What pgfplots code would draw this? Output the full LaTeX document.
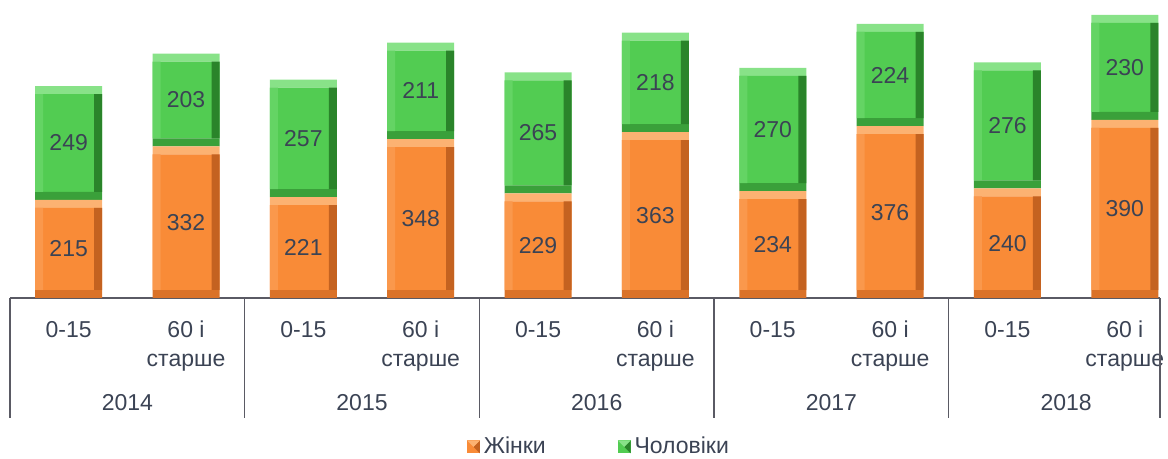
\documentclass[border=0pt]{standalone}
\usepackage{pgfplots}
\pgfplotsset{compat=1.18}
\usepackage{fontspec}
\setmainfont{Liberation Sans}
\definecolor{orbase}{RGB}{249,139,55}
\definecolor{ortop}{RGB}{252,178,114}
\definecolor{orleft}{RGB}{250,152,76}
\definecolor{orright}{RGB}{196,98,32}
\definecolor{orbot}{RGB}{218,114,40}
\definecolor{grbase}{RGB}{82,204,82}
\definecolor{grtop}{RGB}{136,226,136}
\definecolor{grleft}{RGB}{100,212,100}
\definecolor{grright}{RGB}{42,132,42}
\definecolor{grbot}{RGB}{58,160,58}
\definecolor{txt}{RGB}{59,67,84}
\definecolor{linecol}{RGB}{90,90,100}
\newcommand{\lblfont}{\fontsize{11.5}{14.5}\selectfont}
\pgfplotsset{
 common/.style={at={(0,0)}, anchor=south west,
   width=575pt, height=148pt, scale only axis,
   xmin=-0.5, xmax=9.3, ymin=0, ymax=648, clip=false},
 strips/.style={common, hide axis, ybar stacked, bar width=4pt, bar shift=#1},
}
\begin{document}
\begin{tikzpicture}
\useasboundingbox (-5pt,-80.5pt) rectangle (579pt,149pt);
% main bars
\begin{axis}[
 common,
 ybar stacked, bar width=33.5pt,
 hide y axis,
 axis x line*=bottom,
 x axis line style={-, draw=linecol, line width=0.6pt},
 xtick={0,...,9},
 xticklabels={0-15,{60 і\\старше},0-15,{60 і\\старше},0-15,{60 і\\старше},0-15,{60 і\\старше},0-15,{60 і\\старше}},
 xticklabel style={align=center, font=\lblfont, text=txt, anchor=north, yshift=-8pt},
 major tick length=0pt,
 extra x ticks={-0.5,1.5,3.5,5.5,7.5,9.3},
 extra x tick labels={},
 extra x tick style={major tick length=60pt, tick align=outside, tick style={draw=linecol, line width=0.6pt}},
 legend columns=2,
 legend style={at={(axis description cs:0.513,-0.503)}, anchor=center, draw=none, fill=none,
   font=\lblfont, text=txt, /tikz/every even column/.append style={column sep=34pt}},
 legend cell align=left,
]
\addplot[draw=none, fill=orbot, forget plot] coordinates {(0,17.5) (1,17.5) (2,17.5) (3,17.5) (4,17.5) (5,17.5) (6,17.5) (7,17.5) (8,17.5) (9,17.5)};
\addplot[draw=none, fill=orbase,
  legend image code/.code={\fill[orbase] (0pt,-3.2pt) rectangle (6.4pt,3.2pt);\fill[orright] (6.4pt,3.2pt) -- (6.4pt,-3.2pt) -- (3.2pt,0pt) -- cycle;\fill[ortop] (0pt,3.2pt) -- (6.4pt,3.2pt) -- (3.2pt,0pt) -- cycle;}]
 coordinates {(0,180) (1,297) (2,186) (3,313) (4,194) (5,328) (6,199) (7,341) (8,205) (9,355)};
\addlegendentry{Жінки}
\addplot[draw=none, fill=ortop, forget plot] coordinates {(0,17.5) (1,17.5) (2,17.5) (3,17.5) (4,17.5) (5,17.5) (6,17.5) (7,17.5) (8,17.5) (9,17.5)};
\addplot[draw=none, fill=grbot, forget plot] coordinates {(0,17.5) (1,17.5) (2,17.5) (3,17.5) (4,17.5) (5,17.5) (6,17.5) (7,17.5) (8,17.5) (9,17.5)};
\addplot[draw=none, fill=grbase,
  legend image code/.code={\fill[grbase] (0pt,-3.2pt) rectangle (6.4pt,3.2pt);\fill[grright] (6.4pt,3.2pt) -- (6.4pt,-3.2pt) -- (3.2pt,0pt) -- cycle;\fill[grtop] (0pt,3.2pt) -- (6.4pt,3.2pt) -- (3.2pt,0pt) -- cycle;}]
 coordinates {(0,214) (1,168) (2,222) (3,176) (4,230) (5,183) (6,235) (7,189) (8,241) (9,195)};
\addlegendentry{Чоловіки}
\addplot[draw=none, fill=grtop, forget plot] coordinates {(0,17.5) (1,17.5) (2,17.5) (3,17.5) (4,17.5) (5,17.5) (6,17.5) (7,17.5) (8,17.5) (9,17.5)};
\end{axis}
% left bevel strips
\begin{axis}[strips=-14.75pt]
\addplot[draw=none, fill=none] coordinates {(0,17.5) (1,17.5) (2,17.5) (3,17.5) (4,17.5) (5,17.5) (6,17.5) (7,17.5) (8,17.5) (9,17.5)};
\addplot[draw=none, fill=orleft] coordinates {(0,180) (1,297) (2,186) (3,313) (4,194) (5,328) (6,199) (7,341) (8,205) (9,355)};
\addplot[draw=none, fill=none] coordinates {(0,35) (1,35) (2,35) (3,35) (4,35) (5,35) (6,35) (7,35) (8,35) (9,35)};
\addplot[draw=none, fill=grleft] coordinates {(0,214) (1,168) (2,222) (3,176) (4,230) (5,183) (6,235) (7,189) (8,241) (9,195)};
\end{axis}
% right bevel strips
\begin{axis}[strips=14.75pt]
\addplot[draw=none, fill=none] coordinates {(0,17.5) (1,17.5) (2,17.5) (3,17.5) (4,17.5) (5,17.5) (6,17.5) (7,17.5) (8,17.5) (9,17.5)};
\addplot[draw=none, fill=orright] coordinates {(0,180) (1,297) (2,186) (3,313) (4,194) (5,328) (6,199) (7,341) (8,205) (9,355)};
\addplot[draw=none, fill=none] coordinates {(0,35) (1,35) (2,35) (3,35) (4,35) (5,35) (6,35) (7,35) (8,35) (9,35)};
\addplot[draw=none, fill=grright] coordinates {(0,214) (1,168) (2,222) (3,176) (4,230) (5,183) (6,235) (7,189) (8,241) (9,195)};
\end{axis}
% data labels and year labels
\begin{axis}[
 common,
 hide y axis,
 axis x line*=bottom,
 x axis line style={draw=none},
 xtick={0.5,2.5,4.5,6.5,8.5},
 xticklabels={2014,2015,2016,2017,2018},
 major tick length=0pt,
 xticklabel style={font=\lblfont, text=txt, anchor=north, yshift=-44.5pt},
 nodes near coords, point meta=explicit symbolic,
 every node near coord/.append style={anchor=center, font=\lblfont, text=txt},
]
\addplot[only marks, mark=*, mark size=0pt, mark options={draw=none, fill=none}] coordinates {
 (0,107.5)[215] (1,166)[332] (2,110.5)[221] (3,174)[348] (4,114.5)[229]
 (5,181.5)[363] (6,117)[234] (7,188)[376] (8,120)[240] (9,195)[390]
 (0,339.5)[249] (1,433.5)[203] (2,349.5)[257] (3,453.5)[211] (4,361.5)[265]
 (5,472)[218] (6,369)[270] (7,488)[224] (8,378)[276] (9,505)[230]
};
\end{axis}
\end{tikzpicture}
\end{document}
